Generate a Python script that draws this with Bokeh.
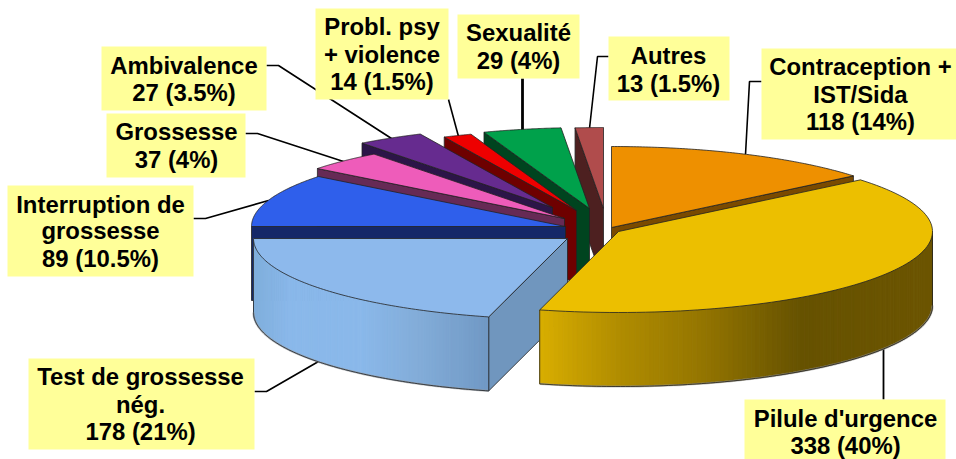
import numpy as np
from bokeh.plotting import figure
from bokeh.models import ColumnDataSource
from bokeh.core.properties import value
from bokeh.embed import file_html
from bokeh.resources import INLINE

# ---- data (clockwise from 12 o'clock)
categories = ["Contraception + IST/Sida", "Pilule d'urgence", "Test de grossesse nég.",
              "Interruption de grossesse", "Grossesse", "Ambivalence",
              "Probl. psy + violence", "Sexualité", "Autres"]
values = [118, 338, 178, 89, 37, 27, 14, 29, 13]
label_lines = [
    ["Contraception +", "IST/Sida", "118 (14%)"],
    ["Pilule d'urgence", "338 (40%)"],
    ["Test de grossesse", "nég.", "178 (21%)"],
    ["Interruption de", "grossesse", "89 (10.5%)"],
    ["Grossesse", "37 (4%)"],
    ["Ambivalence", "27 (3.5%)"],
    ["Probl. psy", "+ violence", "14 (1.5%)"],
    ["Sexualité", "29 (4%)"],
    ["Autres", "13 (1.5%)"],
]

# ---- styles and layout (pixel space of the picture)
top_colors = ["#EE9000", "#ECBF00", "#8DB9EC", "#2F5FEB", "#EE5CBA", "#662B8F", "#EE0000", "#00A14B", "#B04C4C"]
cut_colors = ["#7A4A00", "#7A6000", "#7096BE", "#152868", "#662A55", "#2C1548", "#6E0000", "#00441F", "#4D2020"]
rim_stops = [None,
             [(540, "#D8AE00"), (620, "#B08C00"), (700, "#957600"), (800, "#665200"), (932, "#6C5500")],
             [(252, "#7FAEDB"), (290, "#8AB8EA"), (360, "#8AB8EA"), (420, "#82ACD8"), (490, "#7098C4")],
             None, None, None, None, None, None]
apex = [(611, 227), (618, 231), (567, 238), (565, 226), (564, 218), (552, 207), (576, 210), (589, 208), (603, 208)]
# small per-edge corrections (degrees) to the drawn slice boundaries
edge_nudge = [0, 0, 0.2, 0.75, 0.65, 1.9, 1.0, 1.7, -0.35, 0]
RX, RY, DEPTH = 314, 81, 74
boxes = [(761, 956, 48, 139), (744, 945, 399, 459), (28, 254, 358, 449), (7, 193, 185, 276),
         (106, 245, 113, 177), (101, 266, 46, 110), (315, 448, 8, 99), (457, 579, 14, 78), (608, 729, 36, 100)]
text_x = [860, 845, 140, 100, 176, 183.5, 381.5, 518, 668]
baselines = [[74, 102, 129], [426, 453], [384, 412, 439], [212, 238, 266], [139, 167], [73, 100],
             [34, 62, 89], [40, 68], [63, 91]]
leaders = [[(761, 81), (749, 81), (745, 154)], [(883, 399), (883, 348)], [(254, 391), (266, 391), (318, 361)],
           [(193, 218), (205, 218), (268, 200)], [(245, 133), (257, 133), (343, 161)],
           [(266, 65), (278, 65), (391, 138)], [(448, 99), (458, 136)], [(522, 78), (522, 131)],
           [(608, 56), (597, 56), (589, 128)]]
leader_widths = [1.6, 1.8, 1.6, 1.6, 1.6, 1.6, 1.6, 2.8, 1.6]


def lerp_color(stops, x):
    xs = [s[0] for s in stops]
    rgb = [[int(s[1][i:i + 2], 16) for s in stops] for i in (1, 3, 5)]
    return "#%02x%02x%02x" % tuple(int(round(np.interp(x, xs, ch))) for ch in rgb)


p = figure(width=956, height=459, x_range=(0, 956), y_range=(459, 0), output_backend="svg",
           toolbar_location=None, min_border=0, outline_line_color=None, background_fill_color="white")
p.styles = {"position": "absolute", "left": "0px", "top": "0px"}
p.axis.visible = False
p.grid.visible = False

for pts, w in zip(leaders, leader_widths):
    p.line([q[0] for q in pts], [q[1] for q in pts], line_color="black", line_width=w)

# angles from values
total = sum(values)
edges = 90 - np.concatenate([[0], np.cumsum(values)]) / total * 360 + np.array(edge_nudge)

# painter's order: back to front
order = [0, 8, 7, 6, 5, 4, 3, 2, 1]
outline = dict(line_color="#222222", line_width=0.8)
for i in order:
    a1, a2 = np.radians(edges[i]), np.radians(edges[i + 1])
    cx, cy = apex[i]
    t = np.linspace(a1, a2, 90)
    ax = cx + RX * np.cos(t)
    ay = cy - RY * np.sin(t)

    # cut faces
    for ang, visible in ((a1, np.cos(a1) < 0), (a2, np.cos(a2) > 0)):
        if visible:
            ex, ey = cx + RX * np.cos(ang), cy - RY * np.sin(ang)
            p.patch([cx, ex, ex, cx], [cy, ey, ey + DEPTH, cy + DEPTH],
                    fill_color=cut_colors[i], **outline)

    # outer rim, shaded by strips along the front arc
    if rim_stops[i] is not None:
        lo, hi = max(a2, -np.pi), min(a1, 0.0)
        r = np.linspace(lo, hi, 120)
        rx = cx + RX * np.cos(r)
        ry = cy - RY * np.sin(r)
        xs, ys, cols = [], [], []
        for j in range(len(r) - 1):
            xs.append([rx[j], rx[j + 1], rx[j + 1], rx[j]])
            ys.append([ry[j], ry[j + 1], ry[j + 1] + DEPTH, ry[j] + DEPTH])
            cols.append(lerp_color(rim_stops[i], 0.5 * (rx[j] + rx[j + 1])))
        p.patches(xs, ys, fill_color=cols, line_color=cols, line_width=1.0)
        p.line(rx, ry + DEPTH, line_color="#999999", line_width=2.2, line_alpha=0.6)
        p.line(rx, ry + DEPTH, **outline)
        p.line([rx[0], rx[0]], [ry[0], ry[0] + DEPTH], **outline)
        p.line([rx[-1], rx[-1]], [ry[-1], ry[-1] + DEPTH], **outline)

    # top surface
    p.patch(np.r_[cx, ax], np.r_[cy, ay], fill_color=top_colors[i], **outline)

# label boxes
p.quad(left=[b[0] for b in boxes], right=[b[1] for b in boxes],
       top=[b[2] for b in boxes], bottom=[b[3] for b in boxes],
       fill_color="#FFFF99", line_color=None)

# label text
tx, ty, tt = [], [], []
for lines, x, ys in zip(label_lines, text_x, baselines):
    for line, y in zip(lines, ys):
        tx.append(x)
        ty.append(y)
        tt.append(line)
p.text(x="x", y="y", text="t", source=ColumnDataSource(dict(x=tx, y=ty, t=tt)),
       text_font=value("Liberation Sans"), text_font_style="bold", text_font_size="23.9px",
       text_align="center", text_baseline="alphabetic", text_color="black", y_offset=-8)

open("out.html", "w").write(file_html(p, INLINE))
